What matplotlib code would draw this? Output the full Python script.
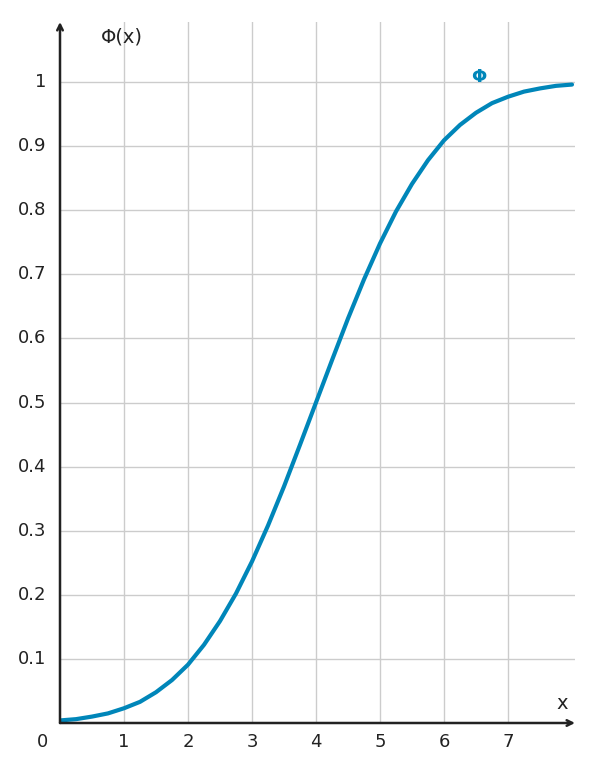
import numpy as np
import matplotlib.pyplot as plt

# values
x_vals = [0, 0.25, 0.5, 0.75, 1, 1.25, 1.5, 1.75, 2, 2.25, 2.5, 2.75, 3, 3.25, 3.5, 3.75,
          4, 4.25, 4.5, 4.75, 5, 5.25, 5.5, 5.75, 6, 6.25, 6.5, 6.75, 7, 7.25, 7.5, 7.75, 8]
phi_vals = [0.004, 0.006, 0.010, 0.015, 0.023, 0.033, 0.048, 0.067, 0.091, 0.122, 0.159, 0.202,
            0.252, 0.308, 0.369, 0.434, 0.500, 0.566, 0.631, 0.692, 0.748, 0.798, 0.841, 0.878,
            0.909, 0.933, 0.952, 0.967, 0.977, 0.985, 0.990, 0.994, 0.996]
x_ticks = [1, 2, 3, 4, 5, 6, 7]
y_ticks = [0.1, 0.2, 0.3, 0.4, 0.5, 0.6, 0.7, 0.8, 0.9, 1]
y_labels = ["0.1", "0.2", "0.3", "0.4", "0.5", "0.6", "0.7", "0.8", "0.9", "1"]

blue = "#0086b9"
dark = "#222222"

fig = plt.figure(figsize=(5.91, 7.72), dpi=100)
ax = fig.add_axes([60/591, 49/772, 515/591, 701/772])
ax.set_xlim(0, 515/64)
ax.set_ylim(0, 701/641)

for t in x_ticks:
    ax.axvline(t, color="#cccccc", lw=1, zorder=0)
for t in y_ticks:
    ax.axhline(t, color="#cccccc", lw=1, zorder=0)

ax.plot(x_vals, phi_vals, color=blue, lw=3, solid_capstyle="round", zorder=3)

for s in ax.spines.values():
    s.set_visible(False)
ax.set_xticks([])
ax.set_yticks([])

ax.annotate("", xy=(1, 0), xycoords="axes fraction", xytext=(0, 0),
            arrowprops=dict(arrowstyle="->", color=dark, lw=1.8, shrinkA=0, shrinkB=0))
ax.annotate("", xy=(0, 1), xycoords="axes fraction", xytext=(0, 0),
            arrowprops=dict(arrowstyle="->", color=dark, lw=1.8, shrinkA=0, shrinkB=0))

for t in x_ticks:
    ax.text(t, -0.03, str(t), ha="center", va="center", fontsize=13, color=dark)
for t, l in zip(y_ticks, y_labels):
    ax.text(-0.22, t, l, ha="right", va="center", fontsize=13, color=dark)
ax.text(-0.27, -0.03, "0", ha="center", va="center", fontsize=13, color=dark)
ax.text(0.64, 1.07, "Φ(x)", ha="left", va="center", fontsize=14, color=dark)
ax.text(7.75, 0.03, "x", ha="left", va="center", fontsize=14, color=dark)
ax.text(6.55, 1.008, "Φ", ha="center", va="center", fontsize=13, color=blue, fontweight="bold")

fig.savefig("out.png", dpi=100)
